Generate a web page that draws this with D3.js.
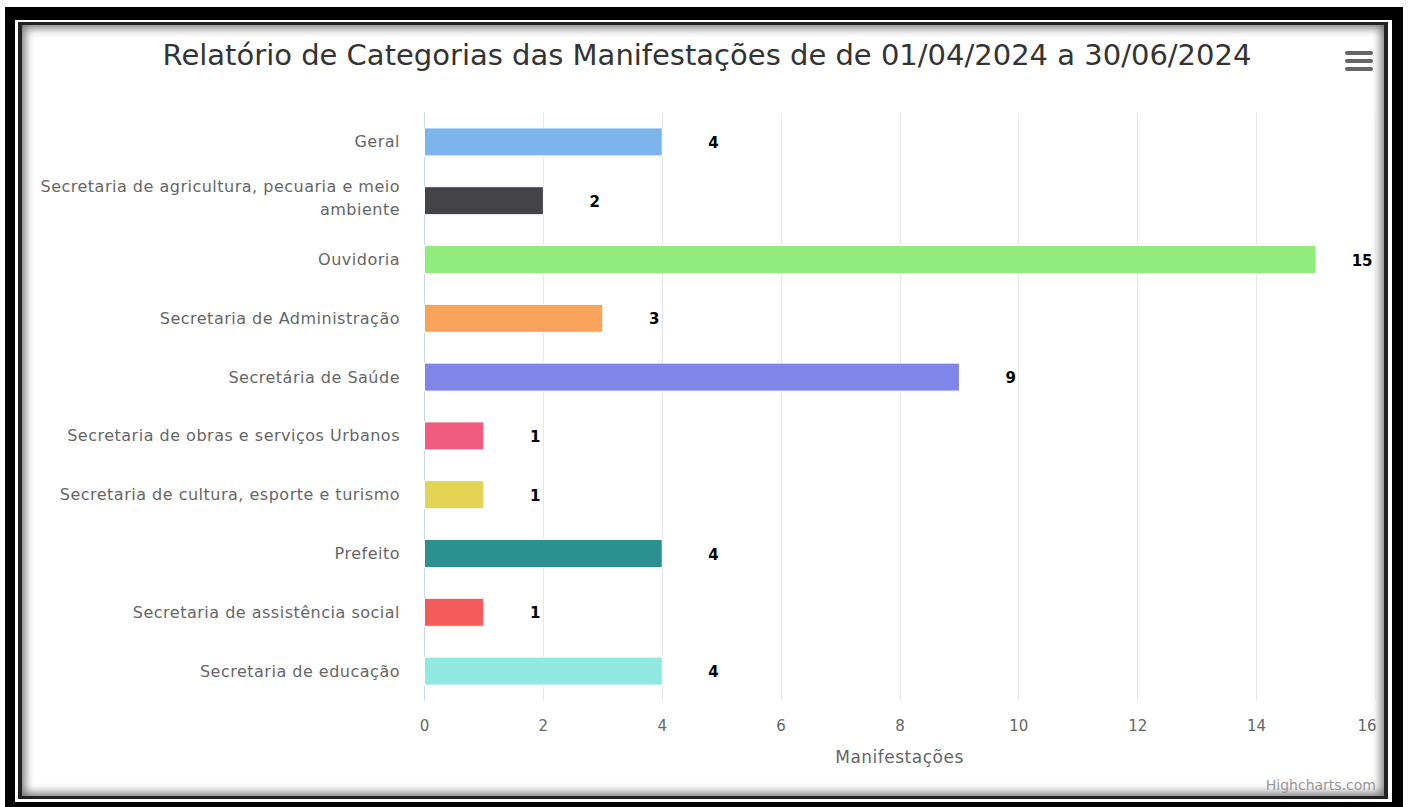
<!DOCTYPE html>
<html>
<head>
<meta charset="utf-8">
<script src="https://cdn.jsdelivr.net/npm/d3@7"></script>
<style>
  html, body { margin: 0; padding: 0; background: #fff; width: 1410px; height: 807px; overflow: hidden; }
  .box { position: absolute; box-sizing: border-box; }
  #black { left: 5px; top: 7px; width: 1398px; height: 805px; background: #000; }
  #white { left: 15px; top: 20px; width: 1377px; height: 782px; background: #fff; }
  #dark { left: 18px; top: 22px; width: 1370px; height: 777px; background: #222; }
  #content { left: 22px; top: 25px; width: 1362px; height: 771px; background: #fff;
    box-shadow: inset 0 0 10px 3px rgba(0,0,0,0.55); }
  svg { position: absolute; left: 0; top: 0; font-family: "DejaVu Sans", sans-serif; }
</style>
</head>
<body>
<div class="box" id="black"></div>
<div class="box" id="white"></div>
<div class="box" id="dark"></div>
<div class="box" id="content"></div>
<div id="chart"></div>
<script>
const categories = [
  'Geral',
  'Secretaria de agricultura, pecuaria e meio ambiente',
  'Ouvidoria',
  'Secretaria de Administração',
  'Secretária de Saúde',
  'Secretaria de obras e serviços Urbanos',
  'Secretaria de cultura, esporte e turismo',
  'Prefeito',
  'Secretaria de assistência social',
  'Secretaria de educação'
];
const values = [4, 2, 15, 3, 9, 1, 1, 4, 1, 4];
const colors = ['#7cb5ec', '#434348', '#90ed7d', '#f7a35c', '#8085e9',
  '#f15c80', '#e4d354', '#2b908f', '#f45b5b', '#91e8e1'];
const xTicks = [0, 2, 4, 6, 8, 10, 12, 14, 16];
const title = 'Relatório de Categorias das Manifestações de de 01/04/2024 a 30/06/2024';
const xTitle = 'Manifestações';

const W = 1410, H = 807;
const plot = { left: 424, right: 1375, top: 112.5, bottom: 700.5 };

const svg = d3.select('#chart').append('svg')
  .attr('width', W).attr('height', H);

const x = d3.scaleLinear().domain([0, 16]).range([plot.left, plot.right]);
const y = d3.scaleBand().domain(categories)
  .range([plot.top, plot.bottom])
  .paddingInner(0.524).paddingOuter(0.262);

// title
svg.append('text')
  .attr('x', 707).attr('y', 55)
  .attr('text-anchor', 'middle').attr('dominant-baseline', 'central')
  .style('font-size', '29px').style('fill', '#333')
  .text(title);

// menu icon
svg.append('g').selectAll('line').data([0, 1, 2]).join('line')
  .attr('x1', 1347).attr('x2', 1371)
  .attr('y1', d => 53 + d * 8).attr('y2', d => 53 + d * 8)
  .attr('stroke', '#666').attr('stroke-width', 4).attr('stroke-linecap', 'round');

// grid
svg.append('g').selectAll('line').data(xTicks.slice(1)).join('line')
  .attr('x1', d => Math.round(x(d)) + 0.5).attr('x2', d => Math.round(x(d)) + 0.5)
  .attr('y1', plot.top).attr('y2', plot.bottom)
  .attr('stroke', '#e6e6e6').attr('stroke-width', 1);

// x axis
const xAxis = d3.axisBottom(x).tickValues(xTicks).tickSize(0).tickPadding(0);
const gx = svg.append('g')
  .attr('transform', `translate(0,${plot.bottom})`)
  .call(xAxis);
gx.select('.domain').remove();
gx.selectAll('text')
  .attr('y', 25).attr('dy', null)
  .attr('dominant-baseline', 'central')
  .attr('text-anchor', d => d === 16 ? 'end' : 'middle')
  .attr('x', d => d === 16 ? 1 : 0)
  .style('font-family', '"DejaVu Sans", sans-serif')
  .style('font-size', '15px').style('fill', '#666');

// y axis line
svg.append('line')
  .attr('x1', plot.left + 0.5).attr('x2', plot.left + 0.5)
  .attr('y1', plot.top).attr('y2', plot.bottom)
  .attr('stroke', '#ccd6eb').attr('stroke-width', 1);

// category labels (wrapped like the original)
const wrapLines = {
  'Secretaria de agricultura, pecuaria e meio ambiente':
    ['Secretaria de agricultura, pecuaria e meio', 'ambiente']
};
const yLabels = svg.append('g').selectAll('text').data(categories).join('text')
  .attr('text-anchor', 'end')
  .style('font-size', '16px').style('letter-spacing', '0.5px').style('fill', '#666')
  .attr('y', d => y(d) + y.bandwidth() / 2);
yLabels.each(function (d) {
  const lines = wrapLines[d] || [d];
  const t = d3.select(this);
  const lh = 23;
  const c = y(d) + y.bandwidth() / 2 - 2.5 * (lines.length - 1);
  lines.forEach((ln, i) => {
    t.append('tspan')
      .attr('x', 400)
      .attr('y', c + (i - (lines.length - 1) / 2) * lh)
      .attr('dominant-baseline', 'central')
      .text(ln);
  });
});

// bars
svg.append('g').selectAll('rect').data(values).join('rect')
  .attr('x', x(0) + 0.5)
  .attr('y', (d, i) => y(categories[i]))
  .attr('width', d => x(d) - x(0))
  .attr('height', y.bandwidth())
  .attr('fill', (d, i) => colors[i])
  .attr('stroke', '#fff').attr('stroke-width', 1);

// data labels
svg.append('g').selectAll('text').data(values).join('text')
  .attr('x', d => x(d) + 57)
  .attr('y', (d, i) => y(categories[i]) + y.bandwidth() / 2 + 1)
  .attr('text-anchor', 'end').attr('dominant-baseline', 'central')
  .style('font-size', '15px').style('font-weight', 'bold')
  .style('fill', '#000')
  .style('paint-order', 'stroke').style('stroke', '#fff').style('stroke-width', 2)
  .text(d => d);

// x axis title
svg.append('text')
  .attr('x', (plot.left + plot.right) / 2).attr('y', 757)
  .attr('text-anchor', 'middle').attr('dominant-baseline', 'central')
  .style('font-size', '17px').style('letter-spacing', '0.5px').style('fill', '#666')
  .text(xTitle);

// credits
svg.append('text')
  .attr('x', 1376).attr('y', 785)
  .attr('text-anchor', 'end').attr('dominant-baseline', 'central')
  .style('font-size', '14px').style('fill', '#999')
  .text('Highcharts.com');
</script>
</body>
</html>
